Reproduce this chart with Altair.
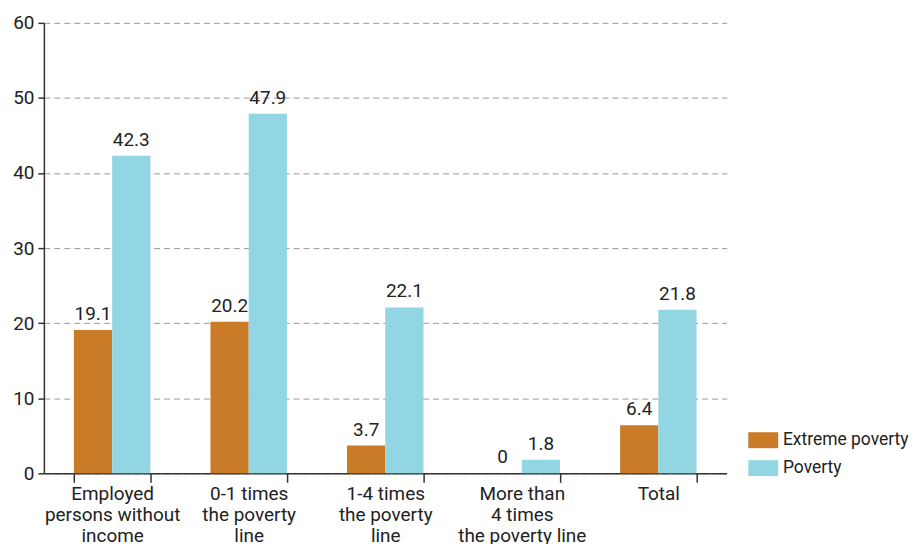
import altair as alt
import pandas as pd

categories = [
    "Employed|persons without|income",
    "0-1 times|the poverty|line",
    "1-4 times|the poverty|line",
    "More than|4 times|the poverty line",
    "Total",
]
series = ["Extreme poverty", "Poverty"]
extreme = [19.1, 20.2, 3.7, 0, 6.4]
poverty = [42.3, 47.9, 22.1, 1.8, 21.8]
y_ticks = [0, 10, 20, 30, 40, 50, 60]
colors = ["#C97B27", "#93D6E3"]

rows = []
for c, e, p in zip(categories, extreme, poverty):
    rows.append({"category": c, "series": series[0], "value": e})
    rows.append({"category": c, "series": series[1], "value": p})
df = pd.DataFrame(rows)

FONT = "Roboto"
FS = 19
TXT = "#222222"

x = alt.X(
    "category:N",
    sort=categories,
    title=None,
    scale=alt.Scale(paddingInner=0.44, paddingOuter=0.22),
    axis=alt.Axis(
        labelExpr="split(datum.label, '|')",
        labelAngle=0,
        tickBand="extent",
        tickSize=9,
        labelPadding=2,
        labelLineHeight=21,
        domainColor="#333333",
        domainWidth=1.5,
        tickColor="#333333",
        tickWidth=1.5,
        labelFontSize=FS,
        labelFont=FONT,
        labelColor=TXT,
        grid=False,
    ),
)
xo = alt.XOffset("series:N", sort=series)
y = alt.Y(
    "value:Q",
    title=None,
    scale=alt.Scale(domain=[0, 60]),
    axis=alt.Axis(
        values=y_ticks,
        tickSize=6,
        labelPadding=4,
        labelFontSize=FS,
        labelFont=FONT,
        labelColor=TXT,
        domainColor="#333333",
        domainWidth=1.5,
        tickColor="#333333",
        tickWidth=1.5,
        grid=True,
        gridColor="#9a9a9a",
        gridDash=[6, 4],
        gridWidth=1,
    ),
)

bars = alt.Chart(df).mark_bar().encode(
    x=x,
    xOffset=xo,
    y=y,
    color=alt.Color(
        "series:N",
        sort=series,
        scale=alt.Scale(domain=series, range=colors),
        legend=alt.Legend(
            title=None,
            orient="none",
            legendX=713,
            legendY=410,
            symbolType="M-1.875,-1L1.875,-1L1.875,1L-1.875,1Z",
            symbolSize=256,
            symbolStrokeWidth=0,
            symbolOpacity=1,
            labelFontSize=17.5,
            labelFont=FONT,
            labelColor=TXT,
            labelOffset=11,
            rowPadding=9,
            padding=0,
        ),
    ),
)

text = alt.Chart(df).mark_text(
    baseline="bottom", dy=-6, fontSize=FS, font=FONT, color=TXT
).encode(
    x=alt.X("category:N", sort=categories),
    xOffset=xo,
    y=alt.Y("value:Q"),
    text=alt.Text("value:Q"),
)

chart = (
    alt.layer(bars, text)
    .properties(
        width=685,
        height=452,
        padding={"left": 4, "top": 5, "right": 0, "bottom": 5},
    )
    .configure_view(stroke=None)
)

chart.save("out.html", embed_options={"renderer": "svg", "actions": False})
